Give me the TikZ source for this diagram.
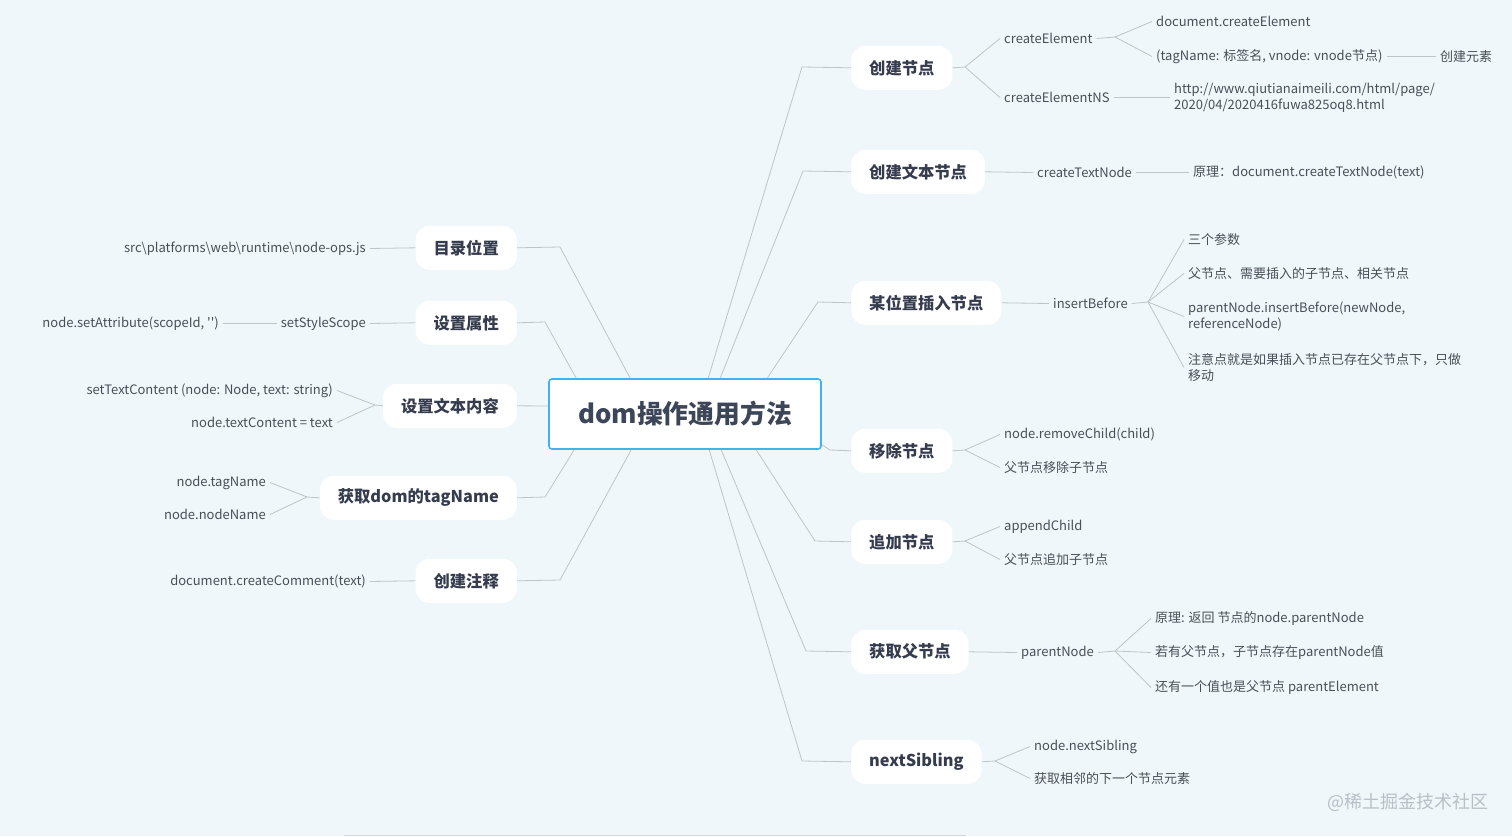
\documentclass[tikz,border=0pt]{standalone}
\usepackage{fontspec}
\setmainfont{Noto Sans CJK SC}[Ligatures=TeXOff]
\definecolor{bg}{HTML}{F0F7FA}
\definecolor{leafc}{HTML}{4A4F57}
\definecolor{branchc}{HTML}{353C4E}
\definecolor{linec}{HTML}{BEC4CA}
\definecolor{rootb}{HTML}{3DB5EC}
\definecolor{rootc}{HTML}{3D4658}
\definecolor{wmc}{HTML}{B8BFC6}
\begin{document}
\begin{tikzpicture}[x=1pt,y=-1pt,
  leaf/.style={inner xsep=4pt, inner ysep=2pt, yshift=-1.5pt, font=\fontsize{13}{16}\selectfont, text=leafc, align=left},
  leafr/.style={leaf, align=right},
  branch/.style={fill=white, rounded corners=14pt, inner xsep=18pt, minimum height=44pt, yshift=-0.8pt, font=\bfseries\fontsize{16.3}{19}\selectfont, text=branchc},
  conn/.style={draw=linec, line width=0.8pt},
  root/.style={draw=rootb, line width=1.6pt, fill=white, rounded corners=3pt, minimum width=272pt, minimum height=70pt, font=\bfseries\fontsize{25.8}{30}\selectfont, text=rootc}]
\fill[bg] (0,0) rectangle (1512,836);
\useasboundingbox (0,0) rectangle (1512,836);

% root
\node[root] (c) at (685,414) {dom操作通用方法};

% right branches
\node[branch, anchor=west] (b1) at (851,67) {创建节点};
\node[branch, anchor=west] (b2) at (851,171) {创建文本节点};
\node[branch, anchor=west] (b3) at (851,302) {某位置插入节点};
\node[branch, anchor=west] (b4) at (851,450) {移除节点};
\node[branch, anchor=west] (b5) at (851,541) {追加节点};
\node[branch, anchor=west] (b6) at (851,651) {获取父节点};
\node[branch, anchor=west] (b7) at (851,761) {nextSibling};

% left branches
\node[branch, anchor=east] (l1) at (517,247) {目录位置};
\node[branch, anchor=east] (l2) at (517,322) {设置属性};
\node[branch, anchor=east] (l3) at (517,405) {设置文本内容};
\node[branch, anchor=east] (l4) at (517,497) {获取dom的tagName};
\node[branch, anchor=east] (l5) at (517,580) {创建注释};

% bends
\coordinate (k1) at (802,67);
\coordinate (k2) at (803,171);
\coordinate (k3) at (818,302);
\coordinate (k4) at (830,450);
\coordinate (k5) at (815,541);
\coordinate (k6) at (806,651);
\coordinate (k7) at (802,761);
\coordinate (m1) at (560,247);
\coordinate (m2) at (545,322);
\coordinate (m4) at (545,497);
\coordinate (m5) at (560,580);

\draw[conn] ([xshift=160pt]c.north west) -- (k1) -- (b1.west);
\draw[conn] ([xshift=172pt]c.north west) -- (k2) -- (b2.west);
\draw[conn] ([xshift=219pt]c.north west) -- (k3) -- (b3.west);
\draw[conn] ([yshift=5pt]c.south east) -- (k4) -- (b4.west);
\draw[conn] ([xshift=208pt]c.south west) -- (k5) -- (b5.west);
\draw[conn] ([xshift=173pt]c.south west) -- (k6) -- (b6.west);
\draw[conn] ([xshift=161pt]c.south west) -- (k7) -- (b7.west);
\draw[conn] ([xshift=82pt]c.north west) -- (m1) -- (l1.east);
\draw[conn] ([xshift=28pt]c.north west) -- (m2) -- (l2.east);
\draw[conn] ([yshift=8pt]c.west) -- (l3.east);
\draw[conn] ([xshift=26pt]c.south west) -- (m4) -- (l4.east);
\draw[conn] ([xshift=83pt]c.south west) -- (m5) -- (l5.east);

% ---- 创建节点
\node[leaf, anchor=west] (ce) at (1000,37) {createElement};
\node[leaf, anchor=west] (cens) at (1000,96) {createElementNS};
\coordinate (f1) at (965,67);
\draw[conn] (b1.east) -- (f1);
\draw[conn] (f1) -- (ce.west);
\draw[conn] (f1) -- (cens.west);
\node[leaf, anchor=west] (dce) at (1152,20) {document.createElement};
\node[leaf, anchor=west] (tn) at (1152,55) {(tagName: 标签名, vnode: vnode节点)};
\node[leaf, anchor=west] (cy) at (1436,55) {创建元素};
\coordinate (f1a) at (1115,37);
\draw[conn] (ce.east) -- (f1a);
\draw[conn] (f1a) -- (dce.west);
\draw[conn] (f1a) -- (tn.west);
\draw[conn] (tn.east) -- (cy.west);
\node[leaf, anchor=west] (url) at (1170,96) {http://www.qiutianaimeili.com/html/page/\\2020/04/2020416fuwa825oq8.html};
\draw[conn] (cens.east) -- (url.west);

% ---- 创建文本节点
\node[leaf, anchor=west] (ctn) at (1033,171) {createTextNode};
\node[leaf, anchor=west] (yl) at (1189,171) {原理：document.createTextNode(text)};
\draw[conn] (b2.east) -- (ctn.west);
\draw[conn] (ctn.east) -- (yl.west);

% ---- 某位置插入节点
\node[leaf, anchor=west] (ib) at (1049,302) {insertBefore};
\draw[conn] (b3.east) -- (ib.west);
\coordinate (f3) at (1148,302);
\draw[conn] (ib.east) -- (f3);
\node[leaf, anchor=west] (i1) at (1184,238) {三个参数};
\node[leaf, anchor=west] (i2) at (1184,272) {父节点、需要插入的子节点、相关节点};
\node[leaf, anchor=west] (i3) at (1184,315) {parentNode.insertBefore(newNode,\\referenceNode)};
\node[leaf, anchor=west] (i4) at (1184,366) {注意点就是如果插入节点已存在父节点下，只做\\移动};
\draw[conn] (f3) -- (i1.west);
\draw[conn] (f3) -- (i2.west);
\draw[conn] (f3) -- (i3.west);
\draw[conn] (f3) -- (i4.west);

% ---- 移除节点
\coordinate (f4) at (965,450);
\node[leaf, anchor=west] (rc1) at (1000,433) {node.removeChild(child)};
\node[leaf, anchor=west] (rc2) at (1000,466) {父节点移除子节点};
\draw[conn] (b4.east) -- (f4);
\draw[conn] (f4) -- (rc1.west);
\draw[conn] (f4) -- (rc2.west);

% ---- 追加节点
\coordinate (f5) at (965,541);
\node[leaf, anchor=west] (ac1) at (1000,525) {appendChild};
\node[leaf, anchor=west] (ac2) at (1000,558) {父节点追加子节点};
\draw[conn] (b5.east) -- (f5);
\draw[conn] (f5) -- (ac1.west);
\draw[conn] (f5) -- (ac2.west);

% ---- 获取父节点
\node[leaf, anchor=west] (pn) at (1017,651) {parentNode};
\draw[conn] (b6.east) -- (pn.west);
\coordinate (f6) at (1115,651);
\draw[conn] (pn.east) -- (f6);
\node[leaf, anchor=west] (p1) at (1151,617) {原理: 返回 节点的node.parentNode};
\node[leaf, anchor=west] (p2) at (1151,651) {若有父节点，子节点存在parentNode值};
\node[leaf, anchor=west] (p3) at (1151,686) {还有一个值也是父节点 parentElement};
\draw[conn] (f6) -- (p1.west);
\draw[conn] (f6) -- (p2.west);
\draw[conn] (f6) -- (p3.west);

% ---- nextSibling
\coordinate (f7) at (995,761);
\node[leaf, anchor=west] (ns1) at (1030,745) {node.nextSibling};
\node[leaf, anchor=west] (ns2) at (1030,777) {获取相邻的下一个节点元素};
\draw[conn] (b7.east) -- (f7);
\draw[conn] (f7) -- (ns1.west);
\draw[conn] (f7) -- (ns2.west);

% ---- left leaves
\node[leafr, anchor=east] (src) at (370,247) {src\textbackslash platforms\textbackslash web\textbackslash runtime\textbackslash node-ops.js};
\draw[conn] (l1.west) -- (src.east);
\node[leafr, anchor=east] (sss) at (370,322) {setStyleScope};
\node[leafr, anchor=east] (sa) at (223,322) {node.setAttribute(scopeId, '')};
\draw[conn] (l2.west) -- (sss.east);
\draw[conn] (sss.west) -- (sa.east);
\coordinate (g3) at (375,405);
\node[leafr, anchor=east] (stc) at (337,389) {setTextContent (node: Node, text: string)};
\node[leafr, anchor=east] (ntc) at (337,421) {node.textContent = text};
\draw[conn] (l3.west) -- (g3);
\draw[conn] (g3) -- (stc.east);
\draw[conn] (g3) -- (ntc.east);
\coordinate (g4) at (307,497);
\node[leafr, anchor=east] (tg) at (270,481) {node.tagName};
\node[leafr, anchor=east] (nn) at (270,513) {node.nodeName};
\draw[conn] (l4.west) -- (g4);
\draw[conn] (g4) -- (tg.east);
\draw[conn] (g4) -- (nn.east);
\node[leafr, anchor=east] (dcc) at (370,580) {document.createComment(text)};
\draw[conn] (l5.west) -- (dcc.east);

% watermark
\node[anchor=east, inner sep=0pt, text=wmc, font=\fontsize{18}{20}\selectfont] (wm) at (1489,802) {@稀土掘金技术社区};

% bottom edge line
\draw[draw=linec!70, line width=1pt] (344,835.5) -- (966,835.5);
\end{tikzpicture}
\end{document}
